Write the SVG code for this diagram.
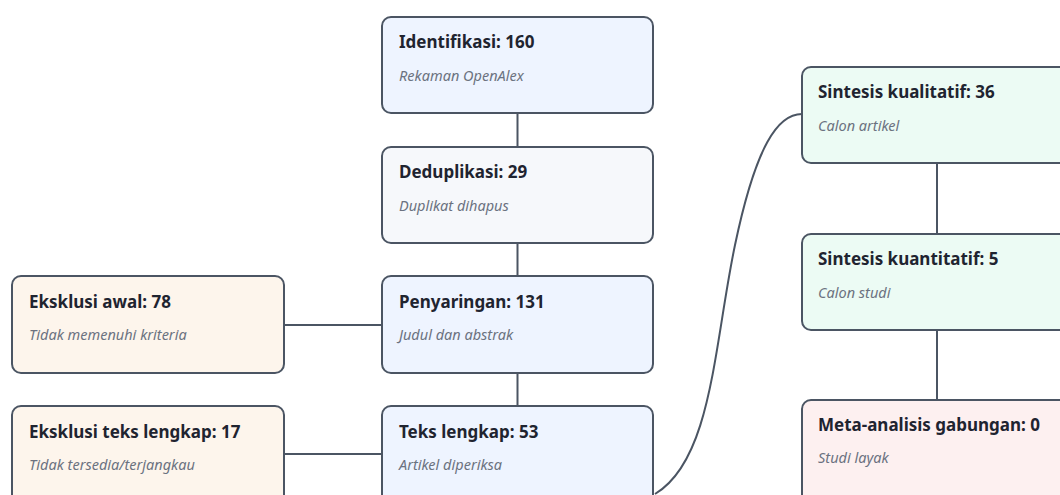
<svg xmlns="http://www.w3.org/2000/svg" width="1060" height="495" viewBox="0 0 1060 495">
<style>
.box{stroke:#4b5563;stroke-width:2}
.blue{fill:#eef4ff}
.grey{fill:#f6f8fb}
.orange{fill:#fdf5ec}
.green{fill:#ecfbf4}
.pink{fill:#fdf0f0}
.t{font-family:"Noto Sans","Open Sans","Liberation Sans",sans-serif;font-weight:bold;font-size:17px;fill:#1f2430}
.s{font-family:"Noto Sans","Open Sans","Liberation Sans",sans-serif;font-style:italic;font-size:14.5px;fill:#6b7280}
.c{fill:none;stroke:#4b5563;stroke-width:2}
</style>
<rect width="1060" height="495" fill="#ffffff"/>
<g id="connectors">
<line class="c" x1="517.5" y1="113" x2="517.5" y2="147"/>
<line class="c" x1="517.5" y1="243" x2="517.5" y2="276"/>
<line class="c" x1="517.5" y1="373" x2="517.5" y2="406"/>
<line class="c" x1="284" y1="325" x2="382" y2="325"/>
<line class="c" x1="284" y1="454" x2="382" y2="454"/>
<line class="c" x1="937" y1="163" x2="937" y2="234"/>
<line class="c" x1="937" y1="330" x2="937" y2="400"/>
<path class="c" d="M 802 114 C 778 114, 756 145, 735 245 C 714 345, 712 460, 655 494"/>
</g>
<g id="identifikasi">
<rect class="box blue" x="382" y="17" width="271" height="96" rx="9"/>
<text class="t" x="399" y="48">Identifikasi: 160</text>
<text class="s" x="399" y="81">Rekaman OpenAlex</text>
</g>
<g id="deduplikasi">
<rect class="box grey" x="382" y="147" width="271" height="96" rx="9"/>
<text class="t" x="399" y="178">Deduplikasi: 29</text>
<text class="s" x="399" y="211">Duplikat dihapus</text>
</g>
<g id="penyaringan">
<rect class="box blue" x="382" y="276" width="271" height="97" rx="9"/>
<text class="t" x="399" y="308">Penyaringan: 131</text>
<text class="s" x="399" y="340">Judul dan abstrak</text>
</g>
<g id="teks-lengkap">
<rect class="box blue" x="382" y="406" width="271" height="120" rx="9"/>
<text class="t" x="399" y="438">Teks lengkap: 53</text>
<text class="s" x="399" y="470">Artikel diperiksa</text>
</g>
<g id="eksklusi-awal">
<rect class="box orange" x="12" y="276" width="272" height="97" rx="9"/>
<text class="t" x="29" y="308">Eksklusi awal: 78</text>
<text class="s" x="29" y="340">Tidak memenuhi kriteria</text>
</g>
<g id="eksklusi-teks">
<rect class="box orange" x="12" y="406" width="272" height="120" rx="9"/>
<text class="t" x="29" y="438">Eksklusi teks lengkap: 17</text>
<text class="s" x="29" y="470">Tidak tersedia/terjangkau</text>
</g>
<g id="sintesis-kualitatif">
<rect class="box green" x="802" y="67" width="270" height="96" rx="9"/>
<text class="t" x="818" y="98">Sintesis kualitatif: 36</text>
<text class="s" x="818" y="131">Calon artikel</text>
</g>
<g id="sintesis-kuantitatif">
<rect class="box green" x="802" y="234" width="270" height="96" rx="9"/>
<text class="t" x="818" y="265">Sintesis kuantitatif: 5</text>
<text class="s" x="818" y="298">Calon studi</text>
</g>
<g id="meta-analisis">
<rect class="box pink" x="802" y="400" width="270" height="120" rx="9"/>
<text class="t" x="818" y="431">Meta-analisis gabungan: 0</text>
<text class="s" x="818" y="463">Studi layak</text>
</g>
</svg>
